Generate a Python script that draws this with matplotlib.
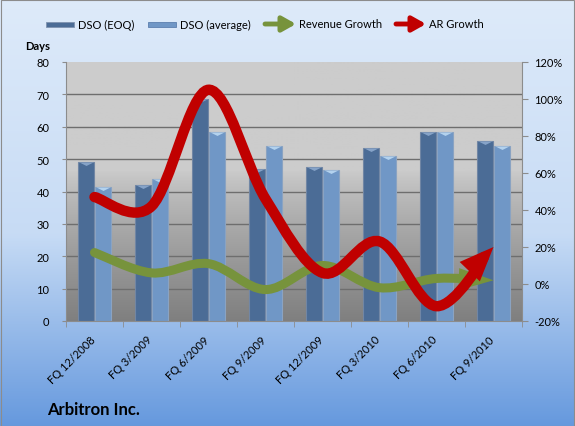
#python3

#import libraries
import numpy as np
import matplotlib
matplotlib.use('Agg')
import matplotlib.pyplot as plt
from matplotlib.path import Path
from matplotlib.patches import FancyArrowPatch, Rectangle
from matplotlib.transforms import ScaledTranslation

#chart data
quarters = ['FQ 12/2008', 'FQ 3/2009', 'FQ 6/2009', 'FQ 9/2009',
            'FQ 12/2009', 'FQ 3/2010', 'FQ 6/2010', 'FQ 9/2010']
dso_eoq = [49, 42, 68.5, 47, 47.5, 53.5, 58.5, 55.5]
dso_avg = [41.5, 44, 58.5, 54, 46.5, 51, 58.5, 54]
revenue_growth = [17, 6, 11, -3, 10, -2, 3, 2]   # percent
ar_growth = [47, 42, 105, 46, 6, 23, -12, 20]     # percent

plt.rcParams['font.family'] = ['Lato', 'DejaVu Sans']
FS = 8

W, H = 575, 427
fig = plt.figure(figsize=(W / 100, H / 100), dpi=100)

#figure background gradient (light blue -> darker blue)
bg = fig.add_axes([0, 0, 1, 1], zorder=-10)
grad = np.linspace(0, 1, 256).reshape(-1, 1)
c_top = np.array([0.87, 0.92, 0.98])
c_mid = np.array([0.78, 0.86, 0.96])
c_bot = np.array([0.40, 0.60, 0.87])
g = np.where(grad < 0.55, grad / 0.55, 1.0)
g2 = np.where(grad < 0.55, 0.0, (grad - 0.55) / 0.45)
img = c_top * (1 - g) + c_mid * g
img = img * (1 - g2) + c_bot * g2
bg.imshow(img.reshape(256, 1, 3), aspect='auto', extent=[0, 1, 0, 1])
bg.set_xlim(0, 1)
bg.set_ylim(0, 1)
bg.axis('off')
fig.patches.append(Rectangle((0.5 / W, 0.5 / H), 1 - 1.5 / W, 1 - 1.5 / H, transform=fig.transFigure,
                             fill=False, edgecolor='#8c8c8c', lw=0.8))

#plot area
L, R, T, B = 66, 522, 63, 322
ax = fig.add_axes([L / W, 1 - B / H, (R - L) / W, (B - T) / H])
ax2 = ax.twinx()

#plot area gradient (light gray top -> dark gray bottom)
pg = np.linspace(0, 1, 256).reshape(-1, 1)
top_c = np.array([0.80, 0.80, 0.80])
bot_c = np.array([0.50, 0.50, 0.50])
t = np.where(pg < 0.42, 0.0, (pg - 0.42) / 0.58) ** 0.8
pimg = top_c * (1 - t) + bot_c * t
ax.imshow(pimg.reshape(256, 1, 3), aspect='auto', extent=[0, 1, 0, 1],
          transform=ax.transAxes, zorder=0)

x = np.arange(len(quarters))
bw = 0.29
for yy in range(10, 80, 10):
    ax.axhline(yy, color='#6e6e6e', lw=1.0, zorder=1)
ax.bar(x - 0.15, dso_eoq, bw, color='#4b6c96', edgecolor='#7186a4', lw=0.8, zorder=2)
ax.bar(x + 0.15, dso_avg, bw, color='#7097c6', edgecolor='#8aa3c2', lw=0.8, zorder=2)
#light cap on top of each column
cap = [(-1, 0), (1, 0), (0, -0.5)]
ax.plot(x - 0.15, dso_eoq, ls='none', marker=cap, ms=10, color='#86a3c8', mew=0, zorder=2.5)
ax.plot(x + 0.15, dso_avg, ls='none', marker=cap, ms=10, color='#b3d2ee', mew=0, zorder=2.5)

ax.set_xlim(-0.5, len(quarters) - 0.5)
ax.set_ylim(0, 80)
ax2.set_ylim(-20, 120)
ax.set_yticks(range(0, 81, 10))
ax2.set_yticks(range(-20, 121, 20))
ax2.set_yticklabels([str(v) + '%' for v in range(-20, 121, 20)])

ax.set_xticks(x)
ax.set_xticklabels(quarters, rotation=45, ha='right', rotation_mode='anchor', fontsize=FS)
ax.set_xticks(np.arange(-0.5, len(quarters), 1), minor=True)
ax.tick_params(axis='x', which='major', length=0, pad=9)
ax.tick_params(axis='x', which='minor', length=4, color='#8c8c8c', direction='out')
ax.tick_params(axis='y', length=3, color='#8c8c8c', labelsize=FS, pad=9)
ax2.tick_params(axis='y', length=4, color='#8c8c8c', labelsize=FS, pad=5)
shift = ScaledTranslation(-5 / 100, 0, fig.dpi_scale_trans)
for lab in ax.get_xticklabels():
    lab.set_transform(lab.get_transform() + shift)

for a in (ax, ax2):
    for s in a.spines.values():
        s.set_visible(False)
ax.spines['bottom'].set_visible(True)
ax.spines['bottom'].set_color('#8c8c8c')
ax.spines['left'].set_visible(True)
ax.spines['left'].set_color('#8c8c8c')
ax2.spines['right'].set_visible(True)
ax2.spines['right'].set_color('#8c8c8c')


#smooth (catmull-rom style) bezier path through the points, like excel's smoothed lines
def smooth_path(xs, ys):
    pts = np.column_stack([xs, ys]).astype(float)
    ext = np.vstack([pts[0], pts, pts[-1]])
    verts = [pts[0]]
    codes = [Path.MOVETO]
    for i in range(len(pts) - 1):
        p0, p1, p2, p3 = ext[i], ext[i + 1], ext[i + 2], ext[i + 3]
        verts += [p1 + (p2 - p0) / 6, p2 - (p3 - p1) / 6, p2]
        codes += [Path.CURVE4] * 3
    return Path(np.array(verts), codes)


green = FancyArrowPatch(path=smooth_path(x, revenue_growth),
                        arrowstyle='-|>,head_length=1.1,head_width=0.35', mutation_scale=10,
                        color='#77933c', lw=6.5, capstyle='round', joinstyle='miter', zorder=3)
ax2.add_patch(green)
red = FancyArrowPatch(path=smooth_path(x, ar_growth),
                      arrowstyle='-|>,head_length=1.1,head_width=0.45', mutation_scale=10,
                      color='#c00000', lw=7.5, capstyle='round', joinstyle='miter', zorder=4)
ax2.add_patch(red)

#legend drawn by hand at the top
ly = 1 - 25 / H
fig.patches.append(Rectangle((46 / W, ly - 2.5 / H), 28 / W, 5 / H, transform=fig.transFigure,
                             facecolor='#4b6c96', edgecolor='#7f93b0', lw=0.6))
fig.text(78 / W, ly, 'DSO (EOQ)', fontsize=FS, va='center')
fig.patches.append(Rectangle((148 / W, ly - 2.5 / H), 28 / W, 5 / H, transform=fig.transFigure,
                             facecolor='#7097c6', edgecolor='#5b7fae', lw=0.6))
fig.text(180 / W, ly, 'DSO (average)', fontsize=FS, va='center')
fig.patches.append(FancyArrowPatch((265 / W, ly), (296 / W, ly), transform=fig.transFigure,
                                   arrowstyle='-|>,head_length=0.8,head_width=0.45', mutation_scale=10,
                                   color='#77933c', lw=3.5, shrinkA=0, shrinkB=0))
fig.text(299 / W, ly, 'Revenue Growth', fontsize=FS, va='center')
fig.patches.append(FancyArrowPatch((396 / W, ly), (426 / W, ly), transform=fig.transFigure,
                                   arrowstyle='-|>,head_length=0.8,head_width=0.45', mutation_scale=10,
                                   color='#c00000', lw=3.5, shrinkA=0, shrinkB=0))
fig.text(429 / W, ly, 'AR Growth', fontsize=FS, va='center')

fig.text(38 / W, 1 - 47 / H, 'Days', fontsize=FS, fontweight='bold', ha='center', va='center')
fig.text(47 / W, 1 - 410 / H, 'Arbitron Inc.', fontsize=12, fontweight='bold', va='center')

fig.savefig('out.png', dpi=100)
